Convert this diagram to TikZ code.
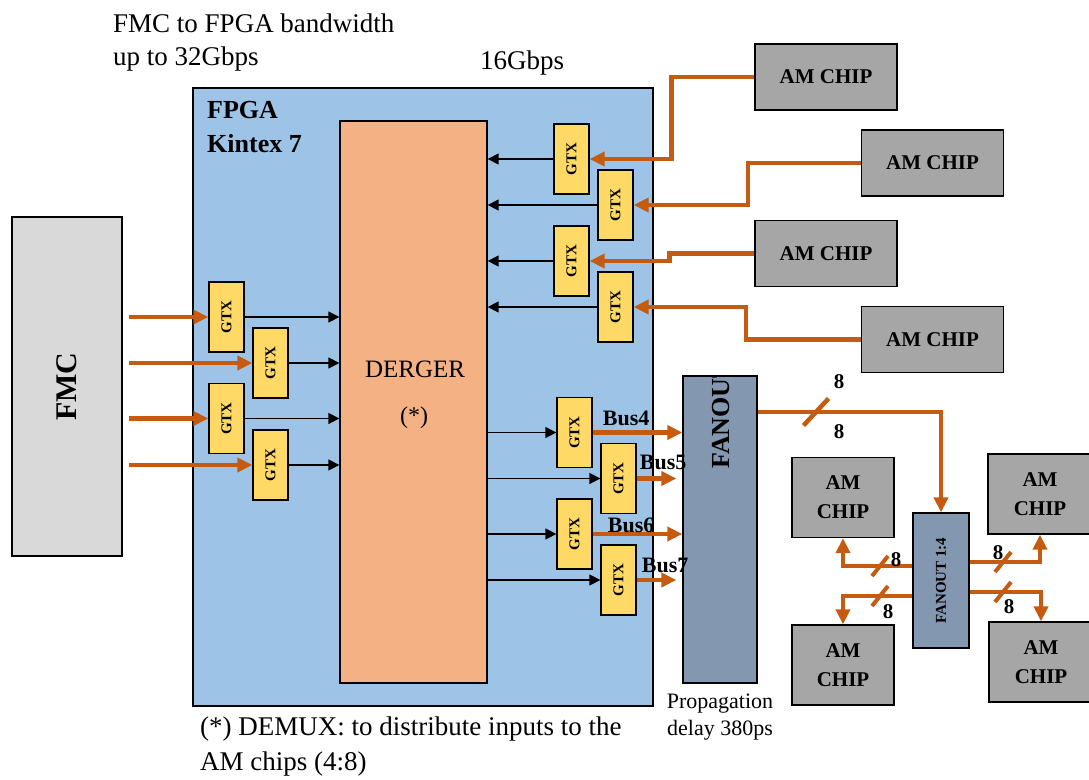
\documentclass[tikz,border=0pt]{standalone}
\usepackage{fontspec}
\setmainfont{Liberation Serif}
\usetikzlibrary{positioning, arrows.meta, calc}

\definecolor{fpgablue}{HTML}{9DC3E6}
\definecolor{demorange}{HTML}{F4B183}
\definecolor{gtxyellow}{HTML}{FFD966}
\definecolor{busorange}{HTML}{C55A11}
\definecolor{chipgray}{HTML}{A6A6A6}
\definecolor{fmcgray}{HTML}{D9D9D9}
\definecolor{fanoutblue}{HTML}{8497B0}

\newcommand{\pxsize}[2]{\fontsize{#1}{#2}\selectfont}

\begin{document}
\begin{tikzpicture}[
    x=1pt, y=-1pt,          % 画像のピクセル座標（下向き y）
    >={Triangle[length=11pt, width=11pt]},
    box/.style={draw=black, line width=1.3pt, inner sep=0pt},
    gtx/.style={box, fill=gtxyellow, minimum width=35pt, minimum height=70pt, font=\bfseries\pxsize{15}{15}},
    amchip/.style={box, fill=chipgray, minimum width=142pt, minimum height=66pt, font=\bfseries\pxsize{21}{29}, align=center},
    smallchip/.style={amchip, minimum width=102pt, minimum height=80pt},
    sig/.style={->, black, line width=1.4pt},
    bus/.style={-{Triangle[length=15pt, width=14pt]}, busorange, line width=4.5pt},
    busline/.style={busorange, line width=4.5pt},
    buslbl/.style={text=black, font=\bfseries\pxsize{22}{22}, inner sep=0pt, anchor=south west},
    eight/.style={font=\bfseries\pxsize{21}{21}, inner sep=0pt},
    txt/.style={font=\pxsize{27}{33}, inner sep=0pt, anchor=base west}
]
    \useasboundingbox (0,0) rectangle (1089,779);

    % --- 1. FMC と FPGA ---
    \node [box, fill=fmcgray, minimum width=110pt, minimum height=339pt, font=\bfseries\pxsize{30}{30}] (fmc) at (67,386.5) {\rotatebox{90}{FMC}};
    \node [box, fill=fpgablue, minimum width=460pt, minimum height=618pt] (fpga) at (423,397) {};
    \node [anchor=north west, align=left, font=\bfseries\pxsize{26}{34}, inner sep=0pt] (fpgalbl) at (207,101) {FPGA\\Kintex 7};

    % DEMERGER（上半分だけ見える文字）
    \node [box, fill=demorange, minimum width=147pt, minimum height=562pt] (dem) at (413.5,402) {};
    \begin{scope}
        \clip (dem.north west) rectangle (487,377);
        \node [font=\pxsize{25}{25}, inner sep=0pt, anchor=base] (demtxt) at (415,377.5) {DERGER};
    \end{scope}
    \node [font=\pxsize{24}{24}, inner sep=0pt] (star) at (414,418) {(*)};

    % --- 2. GTX ブロック ---
    % 左側（FMC 入力）
    \node [gtx] (gl1) at (226.5,317) {\rotatebox{90}{GTX}};
    \node [gtx] (gl2) at (270.5,363) {\rotatebox{90}{GTX}};
    \node [gtx] (gl3) at (226.5,418.5) {\rotatebox{90}{GTX}};
    \node [gtx] (gl4) at (270.5,465) {\rotatebox{90}{GTX}};
    % 右上（AM CHIP から）
    \node [gtx] (gr1) at (571.5,159) {\rotatebox{90}{GTX}};
    \node [gtx] (gr2) at (615.5,205) {\rotatebox{90}{GTX}};
    \node [gtx] (gr3) at (571.5,261) {\rotatebox{90}{GTX}};
    \node [gtx] (gr4) at (615.5,307) {\rotatebox{90}{GTX}};
    % 右下（FANOUT へ）
    \node [gtx] (gb1) at (574.5,432.5) {\rotatebox{90}{GTX}};
    \node [gtx] (gb2) at (618.5,478.5) {\rotatebox{90}{GTX}};
    \node [gtx] (gb3) at (574.5,534) {\rotatebox{90}{GTX}};
    \node [gtx] (gb4) at (618.5,580) {\rotatebox{90}{GTX}};

    % --- 3. AM CHIP と FANOUT ---
    \node [amchip] (am1) at (826,77) {AM CHIP};
    \node [amchip] (am2) at (932.5,163) {AM CHIP};
    \node [amchip] (am3) at (826,253.5) {AM CHIP};
    \node [amchip] (am4) at (932.5,339.5) {AM CHIP};

    \node [box, fill=fanoutblue, minimum width=74pt, minimum height=307pt] (fanout) at (720,529.5) {};
    \begin{scope}
        \clip (fanout.north west) rectangle (fanout.south east);
        \node [font=\bfseries\pxsize{26}{26}, inner sep=0pt, rotate=90, anchor=west] (fanouttxt) at (721,469) {FANOUT};
    \end{scope}

    \node [box, fill=fanoutblue, minimum width=56pt, minimum height=135pt, font=\bfseries\pxsize{15}{15}] (fan14) at (941,580.5) {\rotatebox{90}{FANOUT 1:4}};

    \node [smallchip] (amul) at (843,497.5) {AM\\CHIP};
    \node [smallchip, minimum width=104pt] (amur) at (1040,494) {AM\\CHIP};
    \node [smallchip] (amll) at (843,665) {AM\\CHIP};
    \node [smallchip, minimum width=104pt] (amlr) at (1041,662) {AM\\CHIP};

    % --- 4. 接続線 ---
    \foreach \g in {gl1,gl2,gl3,gl4} {
        \draw [bus, shorten <=6pt] (fmc.east |- \g.west) -- (\g.west);
        \draw [sig] (\g.east) -- (\g.east -| dem.west);
    }

    \draw [bus] (am1.west) -- ++(-83,0) |- (gr1.east);
    \draw [bus] (am2.west) -- ++(-113,0) |- (gr2.east);
    \draw [bus] (am3.west) -- ++(-85,0) |- (gr3.east);
    \draw [bus] (am4.west) -- ++(-115,0) |- (gr4.east);
    \foreach \g in {gr1,gr2,gr3,gr4}
        \draw [sig] (\g.west) -- (\g.west -| dem.east);

    \foreach \g in {gb1,gb2,gb3,gb4}
        \draw [sig] (\g.west -| dem.east) -- (\g.west);
    \draw [bus] (gb1.east) -- (gb1.east -| fanout.west) node [buslbl, pos=0, xshift=8pt, yshift=4pt] {Bus4};
    \draw [bus, shorten >=6pt] (gb2.east) -- (gb2.east -| fanout.west) node [buslbl, pos=0, xshift=1pt, yshift=6pt] {Bus5};
    \draw [bus] (gb3.east) -- (gb3.east -| fanout.west) node [buslbl, pos=0, xshift=13pt, yshift=-1pt] {Bus6};
    \draw [bus, shorten >=6pt] (gb4.east) -- (gb4.east -| fanout.west) node [buslbl, pos=0, xshift=3pt, yshift=5pt] {Bus7};

    % FANOUT → FANOUT 1:4（8 本バス）
    \draw [bus] ([yshift=117.5pt]fanout.east) -| (fan14.north);
    \draw [busline] (816,412) ++(-12.5,13.5) -- ++(25,-27);
    \node [eight] (n8a) at (839,382) {8};
    \node [eight] (n8b) at (839,432) {8};

    % FANOUT 1:4 → AM CHIP
    \draw [bus] ([yshift=14.5pt]fan14.west) -| (amul.south);
    \draw [bus] ([yshift=-15.5pt]fan14.west) -| (amll.north);
    \draw [bus] ([yshift=18.5pt]fan14.east) -| (amur.south);
    \draw [bus] ([yshift=-11.5pt]fan14.east) -| (amlr.north);
    \foreach \p in {(880,566), (880,596), (1003,562), (1003,592)}
        \draw [busline, line width=4pt] \p ++(-8,10) -- ++(16,-20);
    \node [eight] (n8c) at (896,560) {8};
    \node [eight] (n8d) at (888,612) {8};
    \node [eight] (n8e) at (998,553) {8};
    \node [eight] (n8f) at (1009,607) {8};

    % --- 5. 説明テキスト ---
    \node [txt] (bw1) at (113,32) {FMC to FPGA bandwidth};
    \node [txt] (bw2) at (113,65) {up to 32Gbps};
    \node [txt] (rate) at (480,69) {16Gbps};
    \node [txt] (note1) at (200,735) {(*) DEMUX: to distribute inputs to the};
    \node [txt] (note2) at (200,770) {AM chips (4:8)};
    \node [font=\pxsize{22}{27}, inner sep=0pt, anchor=base] (prop1) at (720,708) {Propagation};
    \node [font=\pxsize{22}{27}, inner sep=0pt, anchor=base] (prop2) at (720,735) {delay 380ps};

\end{tikzpicture}
\end{document}
